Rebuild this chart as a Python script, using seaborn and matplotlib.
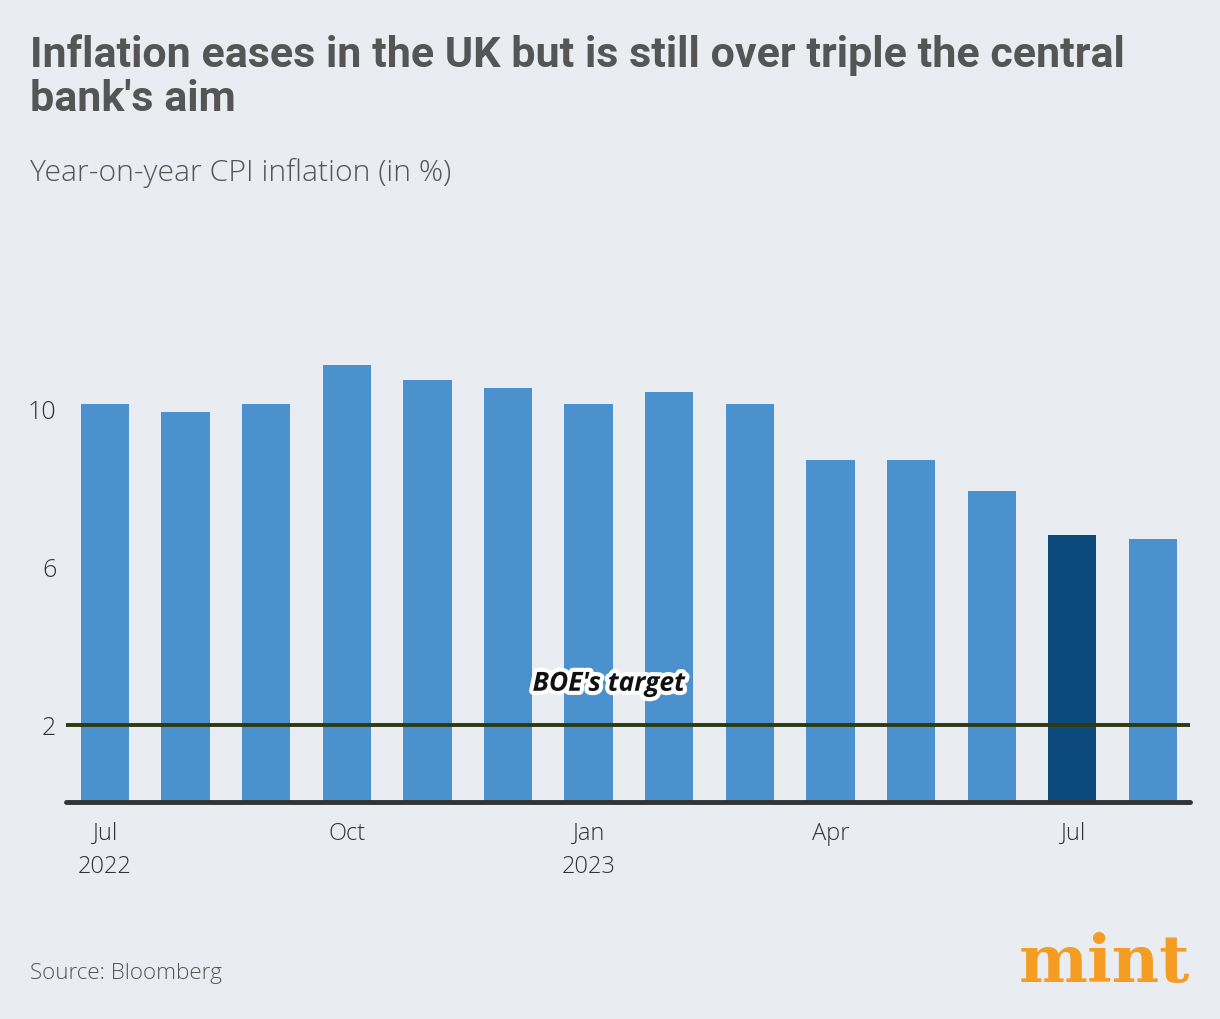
import matplotlib
matplotlib.use("Agg")
import matplotlib.pyplot as plt
import matplotlib.patheffects as pe
import seaborn as sns
import pandas as pd

months = ["2022-07", "2022-08", "2022-09", "2022-10", "2022-11", "2022-12",
          "2023-01", "2023-02", "2023-03", "2023-04", "2023-05", "2023-06",
          "2023-07", "2023-08"]
cpi = [10.1, 9.9, 10.1, 11.1, 10.7, 10.5, 10.1, 10.4, 10.1, 8.7, 8.7, 7.9, 6.8, 6.7]
highlight = "2023-07"
tick_pos = [0, 3, 6, 9, 12]
tick_labels = ["Jul\n2022", "Oct", "Jan\n2023", "Apr", "Jul"]
y_ticks = [2, 6, 10]
target = 2

BG = "#E9ECF0"
LIGHT = "#4A91CE"
DARK = "#0B4A7A"
W, H = 1220, 1020

sns.set_theme(style="white")
plt.rcParams['font.family'] = ['Open Sans', 'DejaVu Sans']

df = pd.DataFrame({"month": months, "cpi": cpi})
palette = {m: (DARK if m == highlight else LIGHT) for m in months}

fig = plt.figure(figsize=(W / 100, H / 100), dpi=100, facecolor=BG)
ax = fig.add_axes([66 / W, 1 - 805 / H, 1124 / W, 475 / H])
ax.set_facecolor(BG)

sns.barplot(data=df, x="month", y="cpi", hue="month", palette=palette,
            legend=False, width=0.6, saturation=1, linewidth=0, ax=ax, zorder=2)

ax.set_xlim(-0.484, 13.46)
ax.set_ylim(0, 12)
for s in ax.spines.values():
    s.set_visible(False)
ax.axhline(0.05, color="#333333", lw=3.5, zorder=4, clip_on=False)
ax.axhline(target, color="#2D3A12", lw=2.8, zorder=3)

ax.set_yticks(y_ticks)
ax.set_yticklabels([str(v) for v in y_ticks], fontsize=18, color="#333333",
                   fontweight="light")
ax.set_xticks(tick_pos)
ax.set_xticklabels(tick_labels, fontsize=17, color="#333333",
                   fontweight="light", linespacing=1.5)
ax.tick_params(axis="x", length=0, pad=12)
ax.tick_params(axis="y", length=0, pad=7)
ax.set_xlabel("")
ax.set_ylabel("")
ax.grid(False)

ax.text(6.25, 3.05, "BOE's target", ha="center", va="center", fontsize=19,
        fontweight="bold", style="italic", color="#111111", zorder=5,
        path_effects=[pe.withStroke(linewidth=6, foreground="white")])

title_font = ["Roboto", "DejaVu Sans"]
t1 = fig.text(30 / W, 1 - 67 / H, "Inflation eases in the UK but is still over triple the central",
              ha="left", va="baseline", fontsize=28.5, fontweight="bold", color="#555555",
              family=title_font)
t2 = fig.text(30 / W, 1 - 111 / H, "bank's aim",
              ha="left", va="baseline", fontsize=28.5, fontweight="bold", color="#555555",
              family=title_font)
# fit title width to the reference line length (~1099 px)
fig.canvas.draw()
wpx = t1.get_window_extent().width
fs = 28.5 * 1099 / wpx
fs = max(min(fs, 31), 26)
t1.set_fontsize(fs)
t2.set_fontsize(fs)

fig.text(30 / W, 1 - 181 / H, "Year-on-year CPI inflation (in %)", ha="left", va="baseline",
         fontsize=21.7, fontweight="light", color="#555555")
fig.text(30 / W, 1 - 973 / H, "Source: Bloomberg", ha="left", va="center",
         fontsize=16.2, fontweight="light", color="#555555")
fig.text(1190 / W, 1 - 982 / H, "mint", ha="right", va="baseline",
         fontsize=47, fontweight="bold", color="#F59C22",
         family=["DejaVu Serif"])

fig.savefig("out.png", dpi=100, facecolor=BG)
